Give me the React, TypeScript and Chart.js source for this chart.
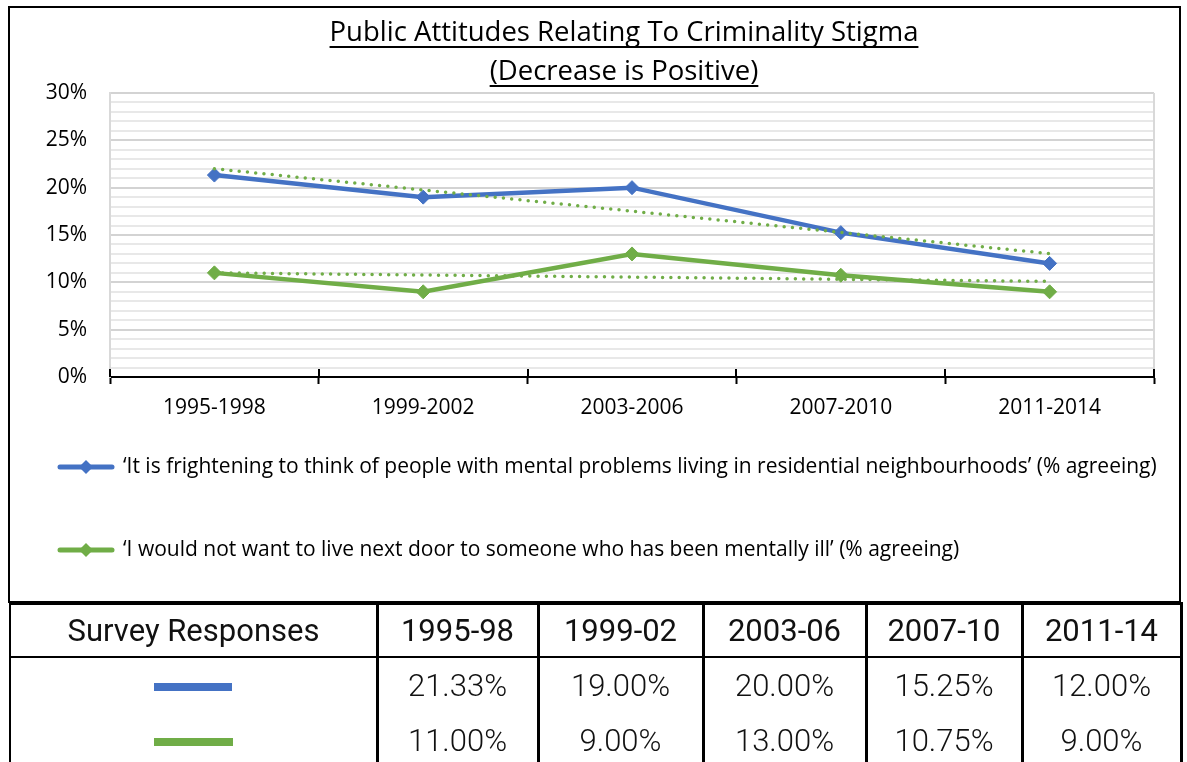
import React, { useEffect, useRef } from 'react';
import { Chart, registerables } from 'chart.js';

Chart.register(...registerables);

// ---- Data ----
const categories = ['1995-1998', '1999-2002', '2003-2006', '2007-2010', '2011-2014'];
const tableHeaders = ['1995-98', '1999-02', '2003-06', '2007-10', '2011-14'];
const frighteningValues = [21.33, 19.0, 20.0, 15.25, 12.0];
const nextDoorValues = [11.0, 9.0, 13.0, 10.75, 9.0];
// linear trend lines (start / end)
const frighteningTrend = [22.0, null, null, null, 13.03];
const nextDoorTrend = [11.0, null, null, null, 10.1];
const seriesLabels = [
  '\u2018It is frightening to think of people with mental problems living in residential neighbourhoods\u2019 (% agreeing)',
  '\u2018I would not want to live next door to someone who has been mentally ill\u2019 (% agreeing)',
];
const titleLines = ['Public Attitudes Relating To Criminality Stigma', '(Decrease is Positive)'];
const tableTitle = 'Survey Responses';
const yMin = 0;
const yMax = 30;
const yMajorStep = 5;

const BLUE = '#4472C4';
const GREEN = '#70AD47';
const FONT = '"Open Sans", "Noto Sans", sans-serif';

const titlePlugin = {
  id: 'customTitle',
  afterDraw(chart: any) {
    const ctx = chart.ctx;
    ctx.save();
    ctx.font = `27.5px ${FONT}`;
    ctx.fillStyle = '#000';
    ctx.textAlign = 'center';
    ctx.textBaseline = 'alphabetic';
    const cx = 614;
    const baselines = [33, 72];
    titleLines.forEach((t, i) => {
      const y = baselines[i];
      ctx.fillText(t, cx, y);
      const w = ctx.measureText(t).width;
      ctx.strokeStyle = '#000';
      ctx.lineWidth = 2;
      ctx.beginPath();
      ctx.moveTo(cx - w / 2, y + 6);
      ctx.lineTo(cx + w / 2, y + 6);
      ctx.stroke();
    });
    ctx.restore();
  },
};

const framePlugin = {
  id: 'frame',
  afterDraw(chart: any) {
    const ctx = chart.ctx;
    const xs = chart.scales.x;
    const area = chart.chartArea;
    ctx.save();
    ctx.strokeStyle = '#d9d9d9';
    ctx.lineWidth = 2;
    ctx.beginPath();
    ctx.moveTo(area.right, area.top);
    ctx.lineTo(area.right, area.bottom);
    ctx.stroke();
    ctx.strokeStyle = '#000';
    ctx.lineWidth = 2;
    const n = categories.length;
    for (let i = 0; i <= n; i++) {
      const x = Math.round(xs.left + (i * xs.width) / n);
      ctx.beginPath();
      ctx.moveTo(x, area.bottom - 8);
      ctx.lineTo(x, area.bottom);
      ctx.stroke();
    }
    ctx.restore();
  },
};

const legendPlugin = {
  id: 'customLegend',
  afterDraw(chart: any) {
    const ctx = chart.ctx;
    const rows = [459, 542];
    const colors = [BLUE, GREEN];
    ctx.save();
    seriesLabels.forEach((label, i) => {
      const y = rows[i];
      ctx.strokeStyle = colors[i];
      ctx.lineWidth = 5;
      ctx.lineCap = 'round';
      ctx.beginPath();
      ctx.moveTo(50, y);
      ctx.lineTo(102, y);
      ctx.stroke();
      ctx.fillStyle = colors[i];
      ctx.beginPath();
      ctx.moveTo(76, y - 7);
      ctx.lineTo(83, y);
      ctx.lineTo(76, y + 7);
      ctx.lineTo(69, y);
      ctx.closePath();
      ctx.fill();
      ctx.fillStyle = '#000';
      ctx.font = `21px ${FONT}`;
      ctx.textAlign = 'left';
      ctx.textBaseline = 'middle';
      ctx.fillText(label, 113, y);
    });
    ctx.restore();
  },
};

function ChartBox() {
  const canvasRef = useRef<HTMLCanvasElement>(null);
  useEffect(() => {
    const canvas = canvasRef.current;
    if (!canvas) return;
    const chart = new Chart(canvas, {
      type: 'line',
      data: {
        labels: categories,
        datasets: [
          {
            label: 'trend1',
            data: frighteningTrend,
            borderColor: GREEN,
            borderWidth: 3.5,
            borderDash: [0, 8.3],
            borderCapStyle: 'round',
            pointRadius: 0,
            spanGaps: true,
            order: 0,
          },
          {
            label: 'trend2',
            data: nextDoorTrend,
            borderColor: GREEN,
            borderWidth: 3.5,
            borderDash: [0, 8.3],
            borderCapStyle: 'round',
            pointRadius: 0,
            spanGaps: true,
            order: 0,
          },
          {
            label: seriesLabels[0],
            data: frighteningValues,
            borderColor: BLUE,
            backgroundColor: BLUE,
            borderWidth: 4.5,
            pointStyle: 'rectRot',
            pointRadius: 7,
            pointBorderWidth: 1,
            pointBackgroundColor: BLUE,
            pointBorderColor: BLUE,
            order: 1,
          },
          {
            label: seriesLabels[1],
            data: nextDoorValues,
            borderColor: GREEN,
            backgroundColor: GREEN,
            borderWidth: 4.5,
            pointStyle: 'rectRot',
            pointRadius: 7,
            pointBorderWidth: 1,
            pointBackgroundColor: GREEN,
            pointBorderColor: GREEN,
            order: 1,
          },
        ] as any,
      },
      options: {
        responsive: false,
        animation: false,
        layout: { padding: { left: 0, right: 25, top: 85, bottom: 174 } },
        plugins: {
          legend: { display: false },
          title: { display: false },
          tooltip: { enabled: false },
        },
        scales: {
          x: {
            offset: true,
            grid: {
              display: true,
              offset: true,
              drawOnChartArea: false,
              drawTicks: true,
              tickLength: 7,
              tickColor: '#000',
              tickWidth: 2,
            },
            border: { display: true, color: '#000', width: 2 },
            ticks: {
              color: '#000',
              padding: 11,
              font: { family: FONT, size: 21 },
              maxRotation: 0,
            },
            afterFit: (s: any) => {
              s.height = 50;
            },
          },
          y: {
            min: yMin,
            max: yMax,
            grid: {
              color: (c: any) => (c.tick && c.tick.value % yMajorStep === 0 ? '#d3d3d3' : '#e8e8e8'),
              lineWidth: 2,
              drawTicks: false,
            },
            border: { display: true, color: '#d9d9d9', width: 2 },
            ticks: {
              stepSize: 1,
              autoSkip: false,
              padding: 23,
              color: '#000',
              font: { family: FONT, size: 21 },
              callback: (v: any) => (Number(v) % yMajorStep === 0 ? `${v}%` : ''),
            },
            afterFit: (s: any) => {
              s.width = 100;
            },
          },
        },
      },
      plugins: [titlePlugin, framePlugin, legendPlugin],
    });
    return () => chart.destroy();
  }, []);
  return (
    <div
      style={{
        position: 'absolute',
        left: 8,
        top: 6,
        width: 1173,
        height: 597,
        border: '2px solid #000',
        boxSizing: 'border-box',
        background: '#fff',
      }}
    >
      <canvas ref={canvasRef} width={1169} height={593} style={{ display: 'block', width: 1169, height: 593 }} />
    </div>
  );
}

const colEdges = [10, 377, 538, 703, 866, 1022, 1181];
const rowCenters = [631, 686, 741];

function DataTable() {
  const cellText = (text: string, col: number, row: number, weight: number) => (
    <div
      key={`t-${col}-${row}`}
      style={{
        position: 'absolute',
        left: colEdges[col],
        width: colEdges[col + 1] - colEdges[col],
        top: rowCenters[row] - 20,
        height: 40,
        lineHeight: '40px',
        textAlign: 'center',
        fontFamily: 'Roboto, sans-serif',
        fontWeight: weight,
        fontSize: 31,
        color: '#111',
        whiteSpace: 'nowrap',
      }}
    >
      {text}
    </div>
  );
  const items: any[] = [];
  items.push(cellText(tableTitle, 0, 0, 400));
  tableHeaders.forEach((h, i) => items.push(cellText(h, i + 1, 0, 400)));
  frighteningValues.forEach((v, i) => items.push(cellText(`${v.toFixed(2)}%`, i + 1, 1, 300)));
  nextDoorValues.forEach((v, i) => items.push(cellText(`${v.toFixed(2)}%`, i + 1, 2, 300)));
  return (
    <div style={{ position: 'absolute', left: 0, top: 0, width: 1187, height: 762 }}>
      <div style={{ position: 'absolute', left: 9, top: 602, width: 1174, height: 3, background: '#000' }} />
      <div style={{ position: 'absolute', left: 9, top: 602, width: 2, height: 170, background: '#000' }} />
      <div style={{ position: 'absolute', left: 1180, top: 602, width: 3, height: 170, background: '#000' }} />
      {colEdges.slice(1, -1).map((x, i) => (
        <div key={`v${i}`} style={{ position: 'absolute', left: x - 1, top: 602, width: 3, height: 170, background: '#000' }} />
      ))}
      <div style={{ position: 'absolute', left: 9, top: 656, width: 1174, height: 2, background: '#000' }} />
      <div style={{ position: 'absolute', left: 154, top: 683, width: 78, height: 8, background: BLUE }} />
      <div style={{ position: 'absolute', left: 154, top: 738, width: 79, height: 8, background: GREEN }} />
      {items}
    </div>
  );
}

export default function App() {
  return (
    <div style={{ position: 'absolute', left: 0, top: 0, width: 1187, height: 762, overflow: 'hidden', background: '#fff' }}>
      <ChartBox />
      <DataTable />
    </div>
  );
}
